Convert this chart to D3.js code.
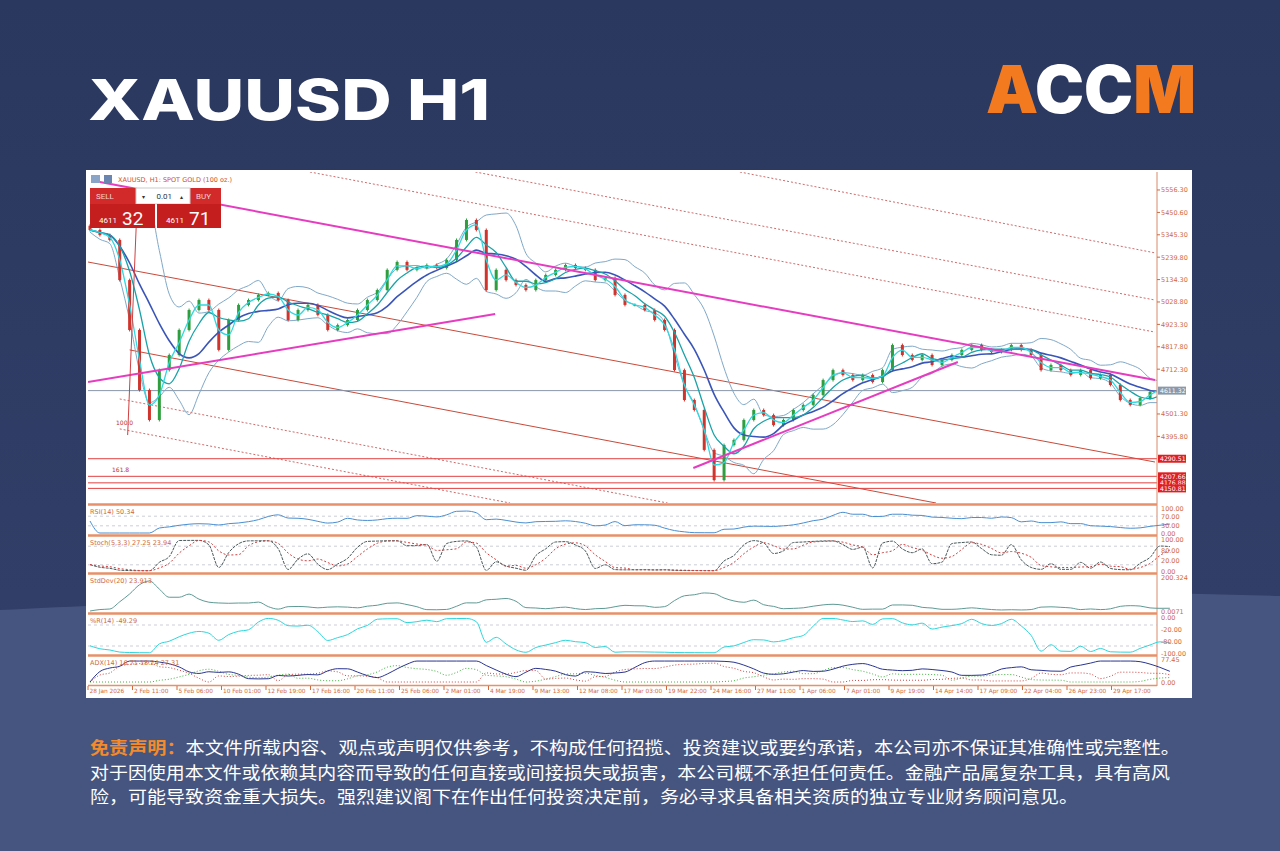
<!DOCTYPE html>
<html>
<head>
<meta charset="utf-8">
<script src="https://cdn.jsdelivr.net/npm/d3@7/dist/d3.min.js"></script>
<style>
  html, body { margin: 0; padding: 0; background: #2c3a62; }
  svg { display: block; }
</style>
</head>
<body>
<svg id="chart" width="1280" height="851"></svg>
<script>
// hourly close samples, left to right
const closes = [5368, 5344, 5321, 5132, 4897, 4614, 4473, 4708, 4779, 4897, 4991, 5038, 4991, 4803, 4944,
  5015, 5038, 5062, 5071, 5038, 4944, 4991, 5015, 4968, 4897, 4920, 4944, 4991, 5038, 5085, 5180, 5217,
  5180, 5189, 5203, 5189, 5227, 5321, 5415, 5368, 5085, 5180, 5132, 5109, 5085, 5132, 5156, 5180, 5203,
  5189, 5180, 5132, 5142, 5062, 5015, 5015, 4991, 4944, 4897, 4708, 4567, 4520, 4332, 4190, 4355, 4379,
  4473, 4520, 4496, 4449, 4473, 4520, 4544, 4591, 4661, 4708, 4685, 4661, 4685, 4652, 4708, 4826, 4779,
  4756, 4779, 4732, 4756, 4779, 4803, 4826, 4803, 4793, 4803, 4826, 4803, 4779, 4708, 4732, 4708, 4685,
  4708, 4670, 4685, 4638, 4567, 4544, 4576, 4605, 4624, 4611];

const priceTicks = [5556.30, 5450.60, 5345.30, 5239.80, 5134.30, 5028.80, 4923.30, 4817.80, 4712.30, 4501.30, 4395.80];
const levels = [4290.51, 4207.66, 4176.88, 4150.81];
const lastPrice = 4611.32;

// drawn objects: [index0, price0, index1, price1]
const magentaLines = [[1, 5594, 107.5, 4661], [-0.2, 4652, 40.9, 4972], [60.9, 4247, 87.6, 4746]];
const redLines = [[-0.2, 5217, 107.5, 4275], [4, 4803, 85.4, 4082]];
const dashLines = [[22.2, 5641, 107.5, 4887], [38.9, 5641, 107.5, 5038], [65.6, 5641, 107.5, 5260],
  [3, 4572, 58.3, 4082], [3, 4431, 42.4, 4082]];

const timeLabels = ["28 Jan 2026", "2 Feb 11:00", "5 Feb 06:00", "10 Feb 01:00", "12 Feb 19:00", "17 Feb 16:00",
  "20 Feb 11:00", "25 Feb 06:00", "2 Mar 01:00", "4 Mar 19:00", "9 Mar 13:00", "12 Mar 08:00", "17 Mar 03:00",
  "19 Mar 22:00", "24 Mar 16:00", "27 Mar 11:00", "1 Apr 06:00", "7 Apr 01:00", "9 Apr 19:00", "14 Apr 14:00",
  "17 Apr 09:00", "22 Apr 04:00", "26 Apr 23:00", "29 Apr 17:00"];

const disclaimer = [
  "本文件所载内容、观点或声明仅供参考，不构成任何招揽、投资建议或要约承诺，本公司亦不保证其准确性或完整性。",
  "对于因使用本文件或依赖其内容而导致的任何直接或间接损失或损害，本公司概不承担任何责任。金融产品属复杂工具，具有高风",
  "险，可能导致资金重大损失。强烈建议阁下在作出任何投资决定前，务必寻求具备相关资质的独立专业财务顾问意见。"
];
const discWidths = [1090, 1080, 988];

// ---- indicators derived from closes ----
const n = closes.length;
const opens = closes.map((c, i) => i ? closes[i - 1] : c + 20);
const highs = closes.map((c, i) => Math.max(c, opens[i]) + 7);
const lows = closes.map((c, i) => Math.min(c, opens[i]) - 7);
const win = (arr, i, p) => arr.slice(Math.max(0, i - p + 1), i + 1);
const sma = (arr, p) => arr.map((_, i) => d3.mean(win(arr, i, p)));
const std = (arr, p) => arr.map((_, i) => d3.deviation(win(arr, i, p)) || 0);
const ma5 = sma(closes, 2), ma10 = sma(closes, 4), ma20 = sma(closes, 7);
const sd = std(closes, 5);
const bbUp = ma20.map((m, i) => m + 1.3 * sd[i] + 10), bbDn = ma20.map((m, i) => m - 1.3 * sd[i] - 10);
const rsi = closes.map((c, i) => {
  const w = win(closes, i, 14);
  let up = 0, dn = 0;
  for (let k = 1; k < w.length; k++) { const d = w[k] - w[k - 1]; if (d > 0) up += d; else dn -= d; }
  return up + dn ? 100 * up / (up + dn) : 50;
});
const stochK = closes.map((c, i) => {
  const hi = d3.max(win(highs, i, 5)), lo = d3.min(win(lows, i, 5));
  return 100 * (c - lo) / (hi - lo);
});
const stochD = sma(stochK, 3);
const wpr = closes.map((c, i) => {
  const hi = d3.max(win(highs, i, 14)), lo = d3.min(win(lows, i, 14));
  return -100 * (hi - c) / (hi - lo);
});
const plusDM = closes.map((c, i) => i ? Math.max(0, highs[i] - highs[i - 1]) : 0);
const minusDM = closes.map((c, i) => i ? Math.max(0, lows[i - 1] - lows[i]) : 0);
const tr = closes.map((c, i) => highs[i] - lows[i] + (i ? Math.abs(opens[i] - closes[i - 1]) : 0));
const atr = sma(tr, 6);
const pdi = sma(plusDM, 6).map((v, i) => 100 * v / atr[i]);
const mdi = sma(minusDM, 6).map((v, i) => 100 * v / atr[i]);
const adx = sma(pdi.map((p, i) => 100 * Math.abs(p - mdi[i]) / (p + mdi[i] || 1)), 4);

// ---- layout ----
const svg = d3.select("#chart");
const defs = svg.append("defs");
const bg = defs.append("linearGradient").attr("id", "bg").attr("x1", 0).attr("y1", 0).attr("x2", 0).attr("y2", 1);
bg.append("stop").attr("offset", 0).attr("stop-color", "#2a375e");
bg.append("stop").attr("offset", 1).attr("stop-color", "#34426c");
svg.append("rect").attr("width", 1280).attr("height", 851).attr("fill", "url(#bg)");
svg.append("path").attr("d", "M0,610 C300,594 900,584 1280,596 L1280,851 L0,851 Z").attr("fill", "#46557f");

svg.append("text").attr("x", 88).attr("y", 120).attr("fill", "#fff")
  .attr("font-family", "Inter, 'Open Sans', sans-serif").attr("font-weight", 800).attr("font-size", 56)
  .attr("textLength", 402).attr("lengthAdjust", "spacingAndGlyphs").text("XAUUSD H1");

const logo = svg.append("text").attr("x", 986).attr("y", 113)
  .attr("font-family", "Inter, 'Open Sans', sans-serif").attr("font-weight", 900).attr("font-size", 66)
  .attr("textLength", 210).attr("lengthAdjust", "spacingAndGlyphs");
logo.append("tspan").attr("fill", "#f47a20").text("A");
logo.append("tspan").attr("fill", "#fff").text("CC");
logo.append("tspan").attr("fill", "#f47a20").text("M");

// chart panel
svg.append("rect").attr("x", 86).attr("y", 170).attr("width", 1106).attr("height", 528).attr("fill", "#fff");
const left = 88, axisX = 1157;
const x = d3.scaleLinear().domain([0, 107.5]).range([90, 1155]);
const y = d3.scaleLinear().domain([4082, 5641]).range([503, 172]);
const g = svg.append("g");
g.append("defs").append("clipPath").attr("id", "pc").append("rect")
  .attr("x", left).attr("y", 172).attr("width", axisX - left).attr("height", 331);
const pc = g.append("g").attr("clip-path", "url(#pc)");

const seg = (sel, data, color, w, dash) => sel.selectAll(null).data(data).join("line")
  .attr("x1", d => x(d[0])).attr("y1", d => y(d[1])).attr("x2", d => x(d[2])).attr("y2", d => y(d[3]))
  .attr("stroke", color).attr("stroke-width", w).attr("stroke-dasharray", dash || null);

seg(pc, dashLines, "#d06a6a", 1, "2,2");
seg(pc, redLines, "#c84a3a", 1);
pc.selectAll(null).data(levels).join("line").attr("x1", left).attr("x2", axisX)
  .attr("y1", d => y(d)).attr("y2", d => y(d)).attr("stroke", "#e04040").attr("stroke-width", 1);
pc.append("line").attr("x1", left).attr("x2", axisX).attr("y1", y(lastPrice)).attr("y2", y(lastPrice))
  .attr("stroke", "#8a96a8").attr("stroke-width", 1);

const line = arr => d3.line().x((d, i) => x(i)).y(d => y(d)).curve(d3.curveMonotoneX)(arr);
pc.append("path").attr("d", line(bbUp)).attr("fill", "none").attr("stroke", "#7fa8c8").attr("stroke-width", 1);
pc.append("path").attr("d", line(bbDn)).attr("fill", "none").attr("stroke", "#7fa8c8").attr("stroke-width", 1);
pc.selectAll(null).data(closes).join("line")
  .attr("x1", (d, i) => x(i)).attr("x2", (d, i) => x(i)).attr("y1", (d, i) => y(highs[i])).attr("y2", (d, i) => y(lows[i]))
  .attr("stroke", (d, i) => d >= opens[i] ? "#2e9e3e" : "#d0342c").attr("stroke-width", 1);
pc.selectAll(null).data(closes).join("rect")
  .attr("x", (d, i) => x(i) - 1.5).attr("width", 3)
  .attr("y", (d, i) => y(Math.max(d, opens[i])))
  .attr("height", (d, i) => Math.max(1, Math.abs(y(d) - y(opens[i]))))
  .attr("fill", (d, i) => d >= opens[i] ? "#2e9e3e" : "#d0342c");
pc.append("path").attr("d", line(ma20)).attr("fill", "none").attr("stroke", "#3a55b8").attr("stroke-width", 1.6);
pc.append("path").attr("d", line(ma10)).attr("fill", "none").attr("stroke", "#19a3a8").attr("stroke-width", 1.3);
pc.append("path").attr("d", line(ma5)).attr("fill", "none").attr("stroke", "#30d8e0").attr("stroke-width", 1.3);
seg(pc, magentaLines, "#e63cc0", 2);
pc.append("line").attr("x1", x(3.8)).attr("x2", x(4.8)).attr("y1", y(4402)).attr("y2", y(5540)).attr("stroke", "#d04040").attr("stroke-width", 1);
pc.append("text").attr("x", 116).attr("y", 425).attr("font-size", 6).attr("fill", "#c03030").attr("font-family", "DejaVu Sans").text("100.0");
pc.append("text").attr("x", 112).attr("y", 472).attr("font-size", 6).attr("fill", "#c03030").attr("font-family", "DejaVu Sans").text("161.8");

// price axis
const axisFont = "DejaVu Sans, sans-serif", axCol = "#d2693c";
g.append("line").attr("x1", axisX).attr("x2", axisX).attr("y1", 172).attr("y2", 686).attr("stroke", "#d98a6a");
g.selectAll(null).data(priceTicks).join("g").each(function (d) {
  const s = d3.select(this);
  s.append("line").attr("x1", axisX).attr("x2", axisX + 3).attr("y1", y(d)).attr("y2", y(d)).attr("stroke", axCol);
  s.append("text").attr("x", axisX + 4).attr("y", y(d) + 2.5).attr("font-size", 6.5).attr("fill", axCol)
    .attr("font-family", axisFont).text(d.toFixed(2));
});
const tag = (val, fill) => {
  g.append("rect").attr("x", axisX + 1).attr("y", y(val) - 4).attr("width", 28).attr("height", 8).attr("fill", fill);
  g.append("text").attr("x", axisX + 3).attr("y", y(val) + 2.5).attr("font-size", 6.2).attr("fill", "#fff")
    .attr("font-family", axisFont).text(val.toFixed(2));
};
levels.forEach(v => tag(v, "#e02020"));
tag(lastPrice, "#8c98aa");

// header widget
g.append("text").attr("x", 118).attr("y", 182).attr("font-size", 6.5).attr("fill", "#d0502c")
  .attr("font-family", axisFont).text("XAUUSD, H1:  SPOT GOLD (100 oz.)");
g.append("rect").attr("x", 91).attr("y", 175).attr("width", 9).attr("height", 8).attr("fill", "#8aa4c8");
g.append("rect").attr("x", 104).attr("y", 175).attr("width", 8).attr("height", 8).attr("fill", "#6a86b0");
g.append("rect").attr("x", 90).attr("y", 188).attr("width", 46).attr("height", 16).attr("fill", "#d22a2a");
g.append("rect").attr("x", 190).attr("y", 188).attr("width", 31).attr("height", 16).attr("fill", "#d22a2a");
g.append("rect").attr("x", 136).attr("y", 188).attr("width", 54).attr("height", 16).attr("fill", "#fff").attr("stroke", "#ccc");
g.append("rect").attr("x", 90).attr("y", 204).attr("width", 65).attr("height", 24).attr("fill", "#c41e1e");
g.append("rect").attr("x", 157).attr("y", 204).attr("width", 64).attr("height", 24).attr("fill", "#c41e1e");
const wt = (tx, ty, s, t, c, anchor) => g.append("text").attr("x", tx).attr("y", ty).attr("font-size", s)
  .attr("fill", c || "#fff").attr("font-family", "Roboto, sans-serif").attr("text-anchor", anchor || "start").text(t);
wt(96, 199, 8, "SELL", "#f6d0d0"); wt(196, 199, 8, "BUY", "#f6d0d0"); wt(172, 199, 8, "0.01", "#333", "end");
wt(142, 199, 6, "▾", "#333"); wt(180, 199, 6, "▴", "#333");
wt(99, 223, 8, "4611"); wt(122, 225, 19, "32"); wt(166, 223, 8, "4611"); wt(189, 225, 19, "71");

// sub panels
const panels = [
  { top: 506, bot: 535, dom: [0, 100], series: [[rsi, "#4a8fd0", null]], title: "RSI(14) 50.34", ticks: ["100.00", "70.00", "30.00", "0.00"], lv: [70, 30] },
  { top: 537, bot: 573, dom: [0, 100], series: [[stochK, "#4a5a5a", "3,1"], [stochD, "#d04040", "2,2"]], title: "Stoch(5,3,3) 27.25 23.94", ticks: ["100.00", "80.00", "20.00", "0.00"], lv: [80, 20] },
  { top: 575, bot: 613, dom: [0, d3.max(sd) * 1.1], series: [[sd, "#5f9a94", null]], title: "StdDev(20) 23.913", ticks: ["200.324", "0.0071"], lv: [] },
  { top: 615, bot: 655, dom: [-100, 0], series: [[wpr, "#2ed6dc", null]], title: "%R(14) -49.29", ticks: ["0.00", "-20.00", "-80.00", "-100.00"], lv: [-20, -80] },
  { top: 657, bot: 684, dom: [0, d3.max([...adx, ...pdi, ...mdi]) * 1.05], series: [[pdi, "#40b040", "1,2"], [mdi, "#d04040", "1,2"], [adx, "#2a3590", null]], title: "ADX(14) 16.71  18.24 27.31", ticks: ["77.45", "0.00"], lv: [] }
];
panels.forEach(p => {
  const py = d3.scaleLinear().domain(p.dom).range([p.bot - 2, p.top + 3]);
  g.append("line").attr("x1", left).attr("x2", axisX).attr("y1", p.top - 1.5).attr("y2", p.top - 1.5)
    .attr("stroke", "#e8906a").attr("stroke-width", 2.5);
  p.lv.forEach(v => g.append("line").attr("x1", left).attr("x2", axisX).attr("y1", py(v)).attr("y2", py(v))
    .attr("stroke", "#b8b8c8").attr("stroke-dasharray", "3,3").attr("stroke-width", 0.7));
  p.series.forEach(([arr, col, dash]) => g.append("path")
    .attr("d", d3.line().x((d, i) => x(i)).y(d => py(d)).curve(d3.curveMonotoneX)(arr))
    .attr("fill", "none").attr("stroke", col).attr("stroke-width", 1).attr("stroke-dasharray", dash));
  g.append("text").attr("x", left + 2).attr("y", p.top + 8).attr("font-size", 6.5).attr("fill", axCol)
    .attr("font-family", axisFont).text(p.title);
  const step = (p.bot - p.top - 4) / Math.max(1, p.ticks.length - 1);
  p.ticks.forEach((t, k) => g.append("text").attr("x", axisX + 4).attr("y", p.top + 5 + k * step)
    .attr("font-size", 6.5).attr("fill", axCol).attr("font-family", axisFont).text(t));
});
g.append("line").attr("x1", left).attr("x2", axisX).attr("y1", 685.5).attr("y2", 685.5).attr("stroke", "#e8906a").attr("stroke-width", 1.5);

// time axis
g.selectAll(null).data(timeLabels).join("g").each(function (t, k) {
  const tx = 88 + k * 44.5;
  const s = d3.select(this);
  s.append("line").attr("x1", tx).attr("x2", tx).attr("y1", 686).attr("y2", 690).attr("stroke", axCol);
  s.append("text").attr("x", tx + 1.5).attr("y", 693).attr("font-size", 5.8).attr("fill", axCol)
    .attr("font-family", axisFont).text(t);
});

// disclaimer
const disc = svg.append("g").attr("font-family", "'Noto Sans CJK SC', sans-serif").attr("font-size", 17).attr("fill", "#fff");
disclaimer.forEach((t, k) => {
  const tx = disc.append("text").attr("x", 90).attr("y", 754 + k * 24.5)
    .attr("textLength", discWidths[k]).attr("lengthAdjust", "spacingAndGlyphs");
  if (k === 0) tx.append("tspan").attr("fill", "#f58a2a").attr("font-weight", 700).text("免责声明：");
  tx.append("tspan").text(t);
});
</script>
</body>
</html>
